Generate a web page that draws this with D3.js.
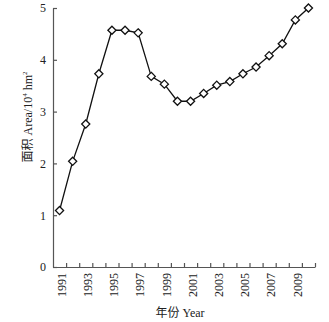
<!DOCTYPE html>
<html>
<head>
<meta charset="utf-8">
<script src="https://cdn.jsdelivr.net/npm/d3@7"></script>
<style>
  body { margin: 0; background: #fff; }
  text { font-family: "Liberation Serif", "Noto Sans CJK SC", serif; }
</style>
</head>
<body>
<svg width="329" height="322"></svg>
<script>
// area by year
var years = [1991, 1992, 1993, 1994, 1995, 1996, 1997, 1998, 1999, 2000,
             2001, 2002, 2003, 2004, 2005, 2006, 2007, 2008, 2009, 2010];
var area = [1.09, 2.04, 2.76, 3.73, 4.57, 4.57, 4.52, 3.68, 3.53, 3.20,
            3.20, 3.35, 3.51, 3.58, 3.73, 3.86, 4.08, 4.31, 4.77, 5.00];
var yTicks = [0, 1, 2, 3, 4, 5];
var xLabels = [1991, 1993, 1995, 1997, 1999, 2001, 2003, 2005, 2007, 2009];

var svg = d3.select('svg');
// plot box (note: "top" is reserved on window, so use other names)
var plotL = 53, plotR = 315, plotT = 8, plotB = 267;

var x = d3.scaleLinear().domain([1990.5, 2010.5]).range([plotL, plotR]);
var y = d3.scaleLinear().domain([0, 5]).range([plotB, plotT]);

// x axis: ticks between years, pointing up
var xAxis = svg.append('g')
  .attr('transform', 'translate(0,' + plotB + ')')
  .call(d3.axisBottom(x)
    .tickValues(d3.range(1991.5, 2011, 1))
    .tickSizeInner(-4)
    .tickSizeOuter(0)
    .tickFormat(''));
xAxis.selectAll('path, line').attr('stroke', '#555').attr('stroke-width', 1.2);

// year labels, rotated
svg.append('g').selectAll('text')
  .data(xLabels)
  .enter()
  .append('text')
  .attr('transform', function(d) {
    return 'translate(' + (x(d) + 2) + ',' + (plotB + 6) + ') rotate(-90)';
  })
  .attr('dy', '0.35em')
  .attr('text-anchor', 'end')
  .attr('font-size', 12)
  .attr('fill', '#222')
  .text(function(d) { return d; });

// y axis
var yAxis = svg.append('g')
  .attr('transform', 'translate(' + plotL + ',0)')
  .call(d3.axisLeft(y)
    .tickValues(yTicks)
    .tickSizeInner(-4)
    .tickSizeOuter(0)
    .tickPadding(7)
    .tickFormat(d3.format('d')));
yAxis.selectAll('path, line').attr('stroke', '#555').attr('stroke-width', 1.2);
yAxis.selectAll('text').attr('font-size', 12).attr('fill', '#222')
  .style('font-family', '"Liberation Serif", serif');

// axis titles
svg.append('text')
  .attr('x', 180)
  .attr('y', 317)
  .attr('text-anchor', 'middle')
  .attr('font-size', 12)
  .attr('fill', '#222')
  .text('年份 Year');

var yt = svg.append('text')
  .attr('transform', 'translate(32,117) rotate(-90)')
  .attr('text-anchor', 'middle')
  .attr('font-size', 12)
  .attr('fill', '#222');
yt.append('tspan').text('面积 Area/10');
yt.append('tspan').attr('font-size', 7).attr('dy', -5).text('4');
yt.append('tspan').attr('dy', 5).text(' hm');
yt.append('tspan').attr('font-size', 7).attr('dy', -5).text('2');

// line + markers
var line = d3.line()
  .x(function(d, i) { return x(years[i]); })
  .y(function(d) { return y(d); });

svg.append('path')
  .datum(area)
  .attr('d', line)
  .attr('fill', 'none')
  .attr('stroke', '#111')
  .attr('stroke-width', 1.3);

svg.selectAll('.pt')
  .data(area)
  .enter()
  .append('path')
  .attr('class', 'pt')
  .attr('transform', function(d, i) {
    return 'translate(' + x(years[i]) + ',' + y(d) + ')';
  })
  .attr('d', d3.symbol().type(d3.symbolDiamond2).size(42))
  .attr('fill', '#fff')
  .attr('stroke', '#111')
  .attr('stroke-width', 1.3);
</script>
</body>
</html>
